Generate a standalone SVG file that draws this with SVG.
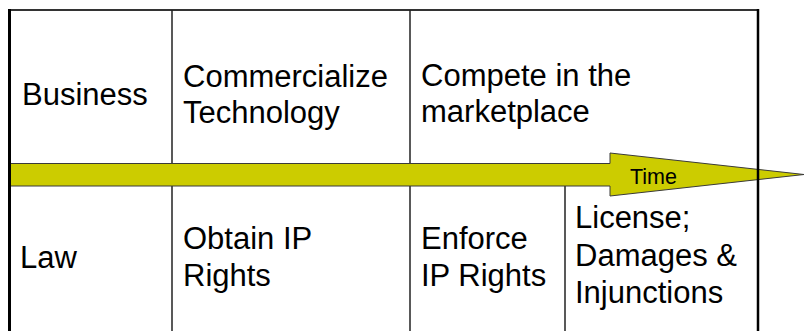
<svg xmlns="http://www.w3.org/2000/svg" width="804" height="331" viewBox="0 0 804 331">
<style>
.t{font-family:"Liberation Sans",Arial,sans-serif;font-size:31px;fill:#000}
.g{stroke:#222;stroke-width:1.5;fill:none}
</style>
<rect width="804" height="331" fill="#fff"/>
<g id="grid">
<line x1="8" y1="10" x2="759" y2="10" stroke="#333" stroke-width="2"/>
<line x1="172" y1="10" x2="172" y2="331" class="g"/>
<line x1="410" y1="10" x2="410" y2="331" class="g"/>
<line x1="565" y1="186" x2="565" y2="331" class="g"/>
</g>
<g id="connectors">
<polygon points="10,163.5 610,163.5 610,153 804,174.5 610,196 610,186 10,186" fill="#CCCC00" stroke="#3a3a3a" stroke-width="1"/>
</g>
<g id="borders">
<line x1="9.5" y1="9" x2="9.5" y2="331" stroke="#000" stroke-width="3"/>
<line x1="758" y1="9" x2="758" y2="331" stroke="#000" stroke-width="2.5"/>
</g>
<g id="business"><text class="t" x="22" y="105">Business</text></g>
<g id="commercialize"><text class="t" x="183" y="87">Commercialize</text><text class="t" x="183" y="123">Technology</text></g>
<g id="compete"><text class="t" x="421" y="86">Compete in the</text><text class="t" x="421" y="122">marketplace</text></g>
<g id="time"><text x="630" y="184" font-family="Liberation Sans,Arial,sans-serif" font-size="21.5">Time</text></g>
<g id="law"><text class="t" x="20" y="268">Law</text></g>
<g id="obtain"><text class="t" x="183" y="249">Obtain IP</text><text class="t" x="183" y="286">Rights</text></g>
<g id="enforce"><text class="t" x="421" y="249">Enforce</text><text class="t" x="421" y="286">IP Rights</text></g>
<g id="license"><text class="t" x="575" y="228">License;</text><text class="t" x="575" y="266">Damages &amp;</text><text class="t" x="575" y="303">Injunctions</text></g>
</svg>
